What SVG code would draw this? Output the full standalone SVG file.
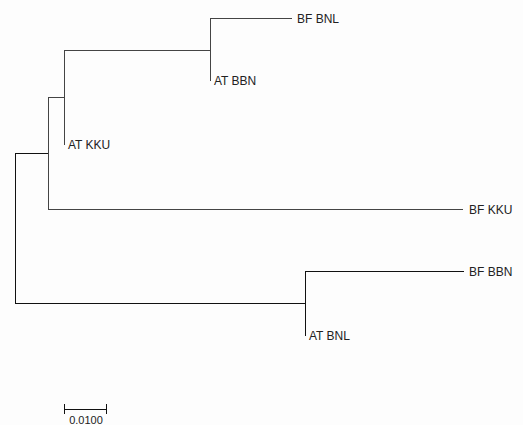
<svg xmlns="http://www.w3.org/2000/svg" width="523" height="425" viewBox="0 0 523 425">
<style>
.bg{fill:#fdfdfd}
.br{fill:none;stroke:#444;stroke-width:1;shape-rendering:crispEdges}
.rt{fill:none;stroke:#111;stroke-width:1;shape-rendering:crispEdges}
.lb{font-family:"Liberation Sans",Arial,sans-serif;font-size:12px;fill:#222;dominant-baseline:central}
.sc{font-family:"Liberation Sans",Arial,sans-serif;font-size:11px;fill:#222;dominant-baseline:central}
</style>
<rect class="bg" x="0" y="0" width="523" height="425"/>
<g id="connectors">
<path class="rt" d="M48.5,153.5 H15.5 V303.5 H305.5"/>
<path class="br" d="M64.5,97.5 H48.5 V209.5 H463"/>
<path class="br" d="M210.5,50.5 H64.5 V145"/>
<path class="br" d="M292,18.5 H210.5 V81"/>
<path class="rt" d="M464,271.5 H305.5 V336"/>
</g>
<g id="node-bf-bnl"><text class="lb" x="297" y="18.5">BF BNL</text></g>
<g id="node-at-bbn"><text class="lb" x="214" y="81">AT BBN</text></g>
<g id="node-at-kku"><text class="lb" x="68" y="145">AT KKU</text></g>
<g id="node-bf-kku"><text class="lb" x="469" y="209.5">BF KKU</text></g>
<g id="node-bf-bbn"><text class="lb" x="469" y="271.5">BF BBN</text></g>
<g id="node-at-bnl"><text class="lb" x="309" y="336">AT BNL</text></g>
<g id="scale-bar">
<path class="rt" d="M64.5,409.5 H106.5 M64.5,404 V414 M106.5,404 V414"/>
<text class="sc" x="86" y="419.5" text-anchor="middle">0.0100</text>
</g>
</svg>
